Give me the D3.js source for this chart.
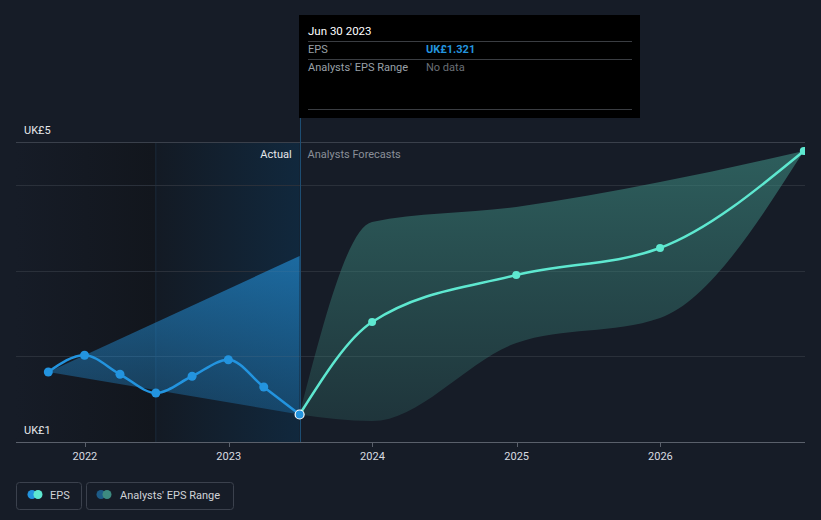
<!DOCTYPE html>
<html><head><meta charset="utf-8">
<script src="https://cdn.jsdelivr.net/npm/d3@7"></script>
<style>
html,body{margin:0;padding:0;background:#161c27;}
svg{display:block;font-family:Roboto,"Noto Sans",sans-serif;}
</style></head>
<body>
<svg id="c" width="821" height="520"></svg>
<script>
// ---- data ----
const pastDates = ["2021-09-30","2021-12-31","2022-03-31","2022-06-30","2022-09-30","2022-12-31","2023-03-31","2023-06-30"];
const pastEPS   = [1.817, 2.012, 1.790, 1.572, 1.767, 1.960, 1.642, 1.321];
const pastRangeDates = ["2021-09-30","2023-06-30"];
const pastRangeLow   = [1.817, 1.321];
const pastRangeHigh  = [1.817, 3.170];
const fcDates = ["2023-06-30","2023-12-31","2024-12-31","2025-12-31","2026-12-31"];
const fcEPS   = [1.321, 2.400, 2.948, 3.263, 4.395];
const fcLow   = [1.321, 1.245, 2.155, 2.447, 4.395];
const fcHigh  = [1.321, 3.567, 3.742, 4.033, 4.395];
const xTickYears = [2022, 2023, 2024, 2025, 2026];
const yLabels = [{v:4.5, t:"UK£5"}, {v:1, t:"UK£1"}];
const gridValues = [2, 3, 4];
const tooltip = {date:"Jun 30 2023", eps:"UK£1.321", range:"No data"};

const parse = d3.timeParse("%Y-%m-%d");
const svg = d3.select("#c");
const x = d3.scaleTime().domain([parse("2021-07-10"), parse("2027-01-03")]).range([16, 805]);
const y = d3.scaleLinear().domain([1, 4.5]).range([442, 142]);

const defs = svg.append("defs");
defs.append("clipPath").attr("id","plotClip").append("rect").attr("x",0).attr("y",100).attr("width",805).attr("height",342);
function lin(id, x1,y1,x2,y2, stops){
  const g = defs.append("linearGradient").attr("id",id).attr("gradientUnits","userSpaceOnUse")
    .attr("x1",x1).attr("y1",y1).attr("x2",x2).attr("y2",y2);
  stops.forEach(s=>g.append("stop").attr("offset",s[0]).attr("stop-color",s[1]).attr("stop-opacity",s[2]));
}
const xNow = x(parse("2023-06-30"));
const xYearAgo = x(parse("2022-06-30"));
lin("gDark", 16,0,xYearAgo,0, [[0,"#161c27",1],[1,"#12161d",1]]);
lin("gPast", xYearAgo,0,xNow,0, [[0,"#131a24",1],[1,"#11283d",1]]);
lin("gBlue", 0,y(3.2),0,y(1.3), [[0,"#2394df",0.62],[1,"#2394df",0.28]]);
lin("gTeal", 0,y(4.4),0,y(1.2), [[0,"#3d8a80",0.6],[1,"#3d8a80",0.22]]);

// backgrounds
svg.append("rect").attr("x",16).attr("y",y(4.5)).attr("width",xYearAgo-16).attr("height",y(1)-y(4.5)).attr("fill","url(#gDark)");
svg.append("rect").attr("x",xYearAgo).attr("y",y(4.5)).attr("width",xNow-xYearAgo).attr("height",y(1)-y(4.5)).attr("fill","url(#gPast)");
svg.append("line").attr("x1",xYearAgo).attr("x2",xYearAgo).attr("y1",y(4.5)).attr("y2",y(1)).attr("stroke","#1a2a3a").attr("stroke-width",1);

// gridlines
svg.selectAll("line.grid").data(gridValues).join("line").attr("class","grid")
  .attr("x1",16).attr("x2",805).attr("y1",d=>Math.round(y(d))+0.5).attr("y2",d=>Math.round(y(d))+0.5)
  .attr("stroke","#2a303a").attr("stroke-width",1);
svg.append("line").attr("x1",16).attr("x2",805).attr("y1",Math.round(y(4.5))+0.5).attr("y2",Math.round(y(4.5))+0.5).attr("stroke","#3a404b");

// now line
svg.append("line").attr("x1",Math.round(xNow)+0.5).attr("x2",Math.round(xNow)+0.5).attr("y1",118).attr("y2",442)
  .attr("stroke","#1d4d72").attr("stroke-width",1);

const plot = svg.append("g").attr("clip-path","url(#plotClip)");

// bands
const pr = pastRangeDates.map((d,i)=>({d:parse(d), lo:pastRangeLow[i], hi:pastRangeHigh[i]}));
plot.append("path").datum(pr).attr("fill","url(#gBlue)")
  .attr("d", d3.area().x(d=>x(d.d)).y0(d=>y(d.lo)).y1(d=>y(d.hi)));
const fr = fcDates.map((d,i)=>({d:parse(d), lo:fcLow[i], hi:fcHigh[i], v:fcEPS[i]}));
plot.append("path").datum(fr).attr("fill","url(#gTeal)")
  .attr("d", d3.area().curve(d3.curveMonotoneX).x(d=>x(d.d)).y0(d=>y(d.lo)).y1(d=>y(d.hi)));

// x axis
const xa = svg.append("g").attr("transform","translate(0,442)");
xa.append("line").attr("x1",16).attr("x2",805).attr("y1",0.5).attr("y2",0.5).attr("stroke","#5a606b");
const ticks = xTickYears.map(yr=>new Date(yr,0,1));
xa.selectAll("line.t").data(ticks).join("line").attr("class","t")
  .attr("x1",d=>Math.round(x(d))+0.5).attr("x2",d=>Math.round(x(d))+0.5).attr("y1",0).attr("y2",5).attr("stroke","#5a606b");
xa.selectAll("text").data(ticks).join("text")
  .attr("x",d=>x(d)).attr("y",18).attr("text-anchor","middle").attr("fill","#d8dbe0").attr("font-size",11)
  .text(d=>d3.timeFormat("%Y")(d));

// lines
const pd = pastDates.map((d,i)=>({d:parse(d), v:pastEPS[i]}));
const line = d3.line().curve(d3.curveMonotoneX).x(d=>x(d.d)).y(d=>y(d.v));
plot.append("path").datum(fr).attr("fill","none").attr("stroke","#5ee8d0").attr("stroke-width",2.5).attr("d",line);
plot.append("path").datum(pd).attr("fill","none").attr("stroke","#2394df").attr("stroke-width",2.5).attr("d",line);
plot.selectAll("circle.fc").data(fr.slice(1)).join("circle").attr("class","fc")
  .attr("cx",d=>x(d.d)).attr("cy",d=>y(d.v)).attr("r",4).attr("fill","#5ee8d0");
plot.selectAll("circle.p").data(pd.slice(0,-1)).join("circle").attr("class","p")
  .attr("cx",d=>x(d.d)).attr("cy",d=>y(d.v)).attr("r",4.5).attr("fill","#2394df");
const last = pd[pd.length-1];
plot.append("circle").attr("cx",x(last.d)).attr("cy",y(last.v)).attr("r",4.5).attr("fill","#2394df").attr("stroke","#ffffff").attr("stroke-width",1.2);

// y labels
svg.selectAll("text.yl").data(yLabels).join("text").attr("class","yl")
  .attr("x",24).attr("y",d=>y(d.v)-8).attr("fill","#e6e8eb").attr("font-size",11).text(d=>d.t);

// section labels
svg.append("text").attr("x",xNow-8).attr("y",158).attr("text-anchor","end").attr("fill","#e6e8eb").attr("font-size",11).text("Actual");
svg.append("text").attr("x",xNow+8).attr("y",158).attr("fill","#8a8f98").attr("font-size",11).text("Analysts Forecasts");

// tooltip
const tt = svg.append("g");
tt.append("rect").attr("x",299).attr("y",15).attr("width",341).attr("height",103).attr("fill","#000");
tt.append("text").attr("x",308).attr("y",35).attr("fill","#fff").attr("font-size",11.5).text(tooltip.date);
[41,59,109].forEach(yy=>tt.append("line").attr("x1",308).attr("x2",632).attr("y1",yy+0.5).attr("y2",yy+0.5).attr("stroke","#3a3d42"));
tt.append("text").attr("x",308).attr("y",53).attr("fill","#9aa0a8").attr("font-size",11).text("EPS");
tt.append("text").attr("x",426).attr("y",53).attr("fill","#2394df").attr("font-size",11).attr("font-weight","bold").text(tooltip.eps);
tt.append("text").attr("x",308).attr("y",71).attr("fill","#9aa0a8").attr("font-size",11).text("Analysts' EPS Range");
tt.append("text").attr("x",426).attr("y",71).attr("fill","#6a6f76").attr("font-size",11).text(tooltip.range);

// legend
const lg = svg.append("g");
lg.append("rect").attr("x",16.5).attr("y",482.5).attr("width",65).attr("height",27).attr("rx",3).attr("fill","none").attr("stroke","#3b414d");
lg.append("circle").attr("cx",32).attr("cy",494.5).attr("r",4.5).attr("fill","#2394df");
lg.append("circle").attr("cx",38).attr("cy",494.5).attr("r",4.5).attr("fill","#5ee8d0");
lg.append("text").attr("x",50).attr("y",498.5).attr("fill","#d0d3d8").attr("font-size",11).text("EPS");
lg.append("rect").attr("x",86.5).attr("y",482.5).attr("width",147).attr("height",27).attr("rx",3).attr("fill","none").attr("stroke","#3b414d");
lg.append("circle").attr("cx",101).attr("cy",494.5).attr("r",4.5).attr("fill","#1d5b87");
lg.append("circle").attr("cx",107).attr("cy",494.5).attr("r",4.5).attr("fill","#3d8a80");
lg.append("text").attr("x",120).attr("y",498.5).attr("fill","#d0d3d8").attr("font-size",11).text("Analysts' EPS Range");
</script>
</body></html>
